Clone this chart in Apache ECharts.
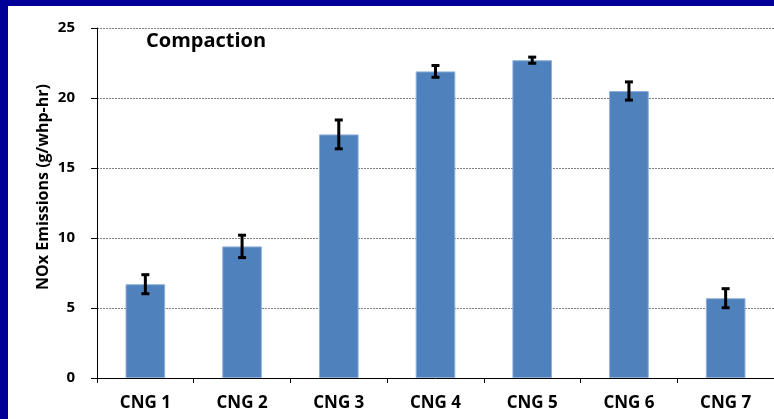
<!DOCTYPE html>
<html>
<head>
<meta charset="utf-8">
<style>
  html, body { margin: 0; padding: 0; background: #ffffff; }
  #chart { width: 774px; height: 419px; }
</style>
<script src="https://cdn.jsdelivr.net/npm/echarts@6/dist/echarts.min.js"></script>
</head>
<body>
<div id="chart"></div>
<script>
// NOx emissions per CNG vehicle during the compaction cycle
const categories = ['CNG 1', 'CNG 2', 'CNG 3', 'CNG 4', 'CNG 5', 'CNG 6', 'CNG 7'];
const noxValues  = [6.7, 9.4, 17.4, 21.9, 22.7, 20.5, 5.7];
const noxErrors  = [0.68, 0.8, 1.03, 0.42, 0.22, 0.65, 0.68];
const yTicks     = [0, 5, 10, 15, 20, 25];

const FONT = '"Open Sans", "Liberation Sans", sans-serif';

const chart = echarts.init(document.getElementById('chart'), null, { renderer: 'canvas' });

const errorData = noxValues.map((v, i) => [i, v - noxErrors[i], v + noxErrors[i]]);

chart.setOption({
  animation: false,
  backgroundColor: '#ffffff',
  grid: { left: 97, right: 0, top: 28, bottom: 41, containLabel: false },
  graphic: [
    { type: 'rect', left: 0, top: 0, shape: { width: 774, height: 6 }, style: { fill: '#000099' }, z: 100 },
    { type: 'rect', left: 0, top: 0, shape: { width: 8, height: 419 }, style: { fill: '#000099' }, z: 100 },
    {
      type: 'text', x: 146, y: 41,
      style: { text: 'Compaction', font: 'bold 20px ' + FONT, fill: '#000000', textAlign: 'left', textVerticalAlign: 'middle' }
    },
    {
      type: 'text', x: 43, y: 187, rotation: Math.PI / 2,
      style: { text: 'NOx Emissions (g/whp-hr)', font: 'bold 16px ' + FONT, fill: '#000000', textAlign: 'center', textVerticalAlign: 'middle' }
    }
  ],
  xAxis: {
    type: 'category',
    data: categories,
    boundaryGap: true,
    axisLine: { show: true, lineStyle: { color: '#000000', width: 1 } },
    axisTick: { show: true, alignWithLabel: false, length: 5, lineStyle: { color: '#000000' } },
    axisLabel: { color: '#000000', fontFamily: FONT, fontWeight: 'bold', fontSize: 17, margin: 17 },
    splitLine: { show: false }
  },
  yAxis: {
    type: 'value',
    min: yTicks[0],
    max: yTicks[yTicks.length - 1],
    interval: 5,
    axisLine: { show: true, lineStyle: { color: '#000000', width: 1 } },
    axisTick: { show: true, length: 6, lineStyle: { color: '#000000' } },
    axisLabel: { color: '#000000', fontFamily: FONT, fontWeight: 'bold', fontSize: 15, margin: 22 },
    splitLine: { show: true, lineStyle: { color: '#808080', type: [2, 1], width: 1 } }
  },
  series: [
    {
      type: 'bar',
      data: noxValues,
      barWidth: '41%',
      itemStyle: { color: '#4F81BD', borderColor: '#8FB1DB', borderWidth: 1 },
      z: 2
    },
    {
      type: 'custom',
      data: errorData,
      z: 5,
      renderItem: function (params, api) {
        const x = api.value(0);
        const lo = api.coord([x, api.value(1)]);
        const hi = api.coord([x, api.value(2)]);
        const cap = 4;
        const style = { stroke: '#000000', lineWidth: 3, fill: null };
        return {
          type: 'group',
          children: [
            { type: 'line', shape: { x1: hi[0], y1: hi[1], x2: lo[0], y2: lo[1] }, style: style },
            { type: 'line', shape: { x1: hi[0] - cap, y1: hi[1], x2: hi[0] + cap, y2: hi[1] }, style: style },
            { type: 'line', shape: { x1: lo[0] - cap, y1: lo[1], x2: lo[0] + cap, y2: lo[1] }, style: style }
          ]
        };
      }
    }
  ]
});
</script>
</body>
</html>
